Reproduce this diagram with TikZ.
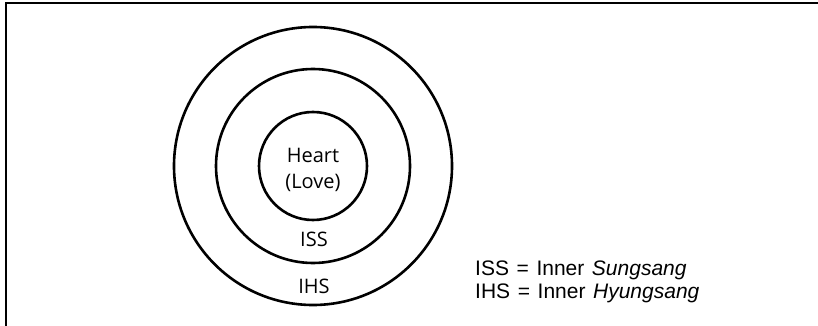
\documentclass[tikz,border=0pt]{standalone}
\usepackage{fontspec}
\setmainfont{Liberation Sans}
\newfontfamily\labelfont{Open Sans}
\newcommand\legendfontsetup{\fontsize{21}{25}\selectfont\spaceskip=7.6pt plus 2pt minus 1pt\relax}
\begin{document}
\begin{tikzpicture}[x=1pt,y=-1pt,
  ring/.style={circle, draw, line width=2.6pt, inner sep=0pt, outer sep=0pt},
  ringlabel/.style={font=\labelfont\fontsize{20}{24}\selectfont, anchor=base, inner sep=0pt},
  legend/.style={font=\legendfontsetup, anchor=base west, inner sep=0pt},
  frameline/.style={line width=2.5pt}]
\useasboundingbox (0,0) rectangle (818,326);
\coordinate (fTL) at (6,3);
\coordinate (fTR) at (818,3);
\coordinate (fBL) at (6,326);
\draw[frameline] (fBL) -- (fTL) -- (fTR);
\node[ring, minimum size=278pt] (outer) at (313,166) {};
\node[ring, minimum size=194pt] (middle) at (313,166) {};
\node[ring, minimum size=108pt] (inner) at (313,166) {};
\node[ringlabel] (heart) at (313,162) {Heart};
\node[ringlabel] (love) at (313,188) {(Love)};
\node[ringlabel] (iss) at (314,246) {ISS};
\node[ringlabel] (ihs) at (314,293.5) {IHS};
\node[legend] (leg1) at (475,275) {ISS = Inner \textit{Sungsang}};
\node[legend] (leg2) at (475,298.5) {IHS = Inner \textit{Hyungsang}};
\end{tikzpicture}
\end{document}
